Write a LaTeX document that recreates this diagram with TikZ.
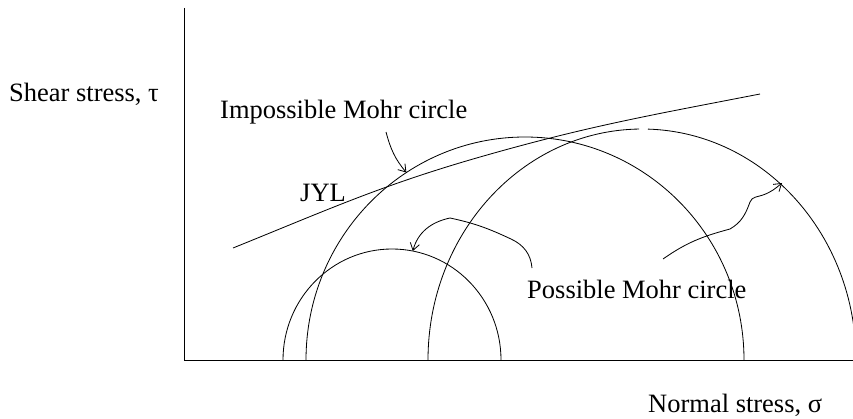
\documentclass[tikz,border=0pt]{standalone}
\usepackage{fontspec}
\setmainfont{Liberation Serif}
\usepackage{tikz}
\usetikzlibrary{arrows.meta, calc}
\colorlet{inkline}{black}
\tikzset{
  lbl/.style={anchor=base west, inner sep=0pt, font=\fontsize{22.6}{27}\selectfont},
  curve/.style={draw=inkline, line width=0.7pt},
  pointer/.style={curve, -{Straight Barb[length=6pt, width=8pt]}}
}
% half Mohr circle sitting on the sigma axis: centre x, x radius, y radius, name
\newcommand{\mohrarc}[4]{%
  \coordinate (#4) at (#1,58);
  \draw[curve] (#4) ++(#2,0) arc[start angle=0, end angle=180, x radius=#2, y radius=#3];
}

\begin{document}
\begin{tikzpicture}[x=0.03cm, y=0.03cm]
    \useasboundingbox (0,0) rectangle (853,418);

    % Axes
    \coordinate (org) at (184,58);
    \draw[curve] (184,410) -- (org) -- (853,58);
    \node[lbl] (shearlbl) at (9,316) {Shear stress, τ};
    \node[lbl] (normallbl) at (648,6) {Normal stress, σ};

    % Mohr circles
    \mohrarc{392}{109}{111}{csmall}
    \mohrarc{525}{219}{223}{cmid}
    \coordinate (cbig) at (642,58);
    \draw[curve] (cbig) ++(214,0) arc[start angle=0, end angle=88.4, x radius=214, y radius=231];
    \draw[curve] (cbig) ++(90.8:214 and 231) arc[start angle=90.8, end angle=180, x radius=214, y radius=231];

    % Failure envelope
    \coordinate (jyla) at (233,170);
    \coordinate (jylm) at (480,261);
    \coordinate (jylb) at (760,324);
    \draw[curve] (jyla) to[out=22, in=196] (jylm) to[out=16, in=191] (jylb);
    \node[lbl] (jyllbl) at (300,216) {JYL};

    % Labels and pointers
    \node[lbl] (implbl) at (220,299) {Impossible Mohr circle};
    \node[lbl] (posslbl) at (527,120) {Possible Mohr circle};
    \coordinate (impfrom) at (386,286);
    \coordinate (imptip) at ($(cmid)+(122.8:219 and 223)$);
    \draw[pointer] (impfrom) to[out=-75, in=130] (imptip);
    \coordinate (possfrom) at (532,150);
    \coordinate (smalltip) at ($(csmall)+(79:109 and 111)$);
    \draw[pointer] (possfrom) to[out=95, in=-25] (511,179) to[out=155, in=-12] (450,200)
      to[out=192, in=75] (smalltip);
    \coordinate (bigfrom) at (663,159);
    \coordinate (bigtip) at (782,235);
    \draw[pointer] (bigfrom) to[out=35, in=-165] (730,189) to[out=30, in=-110] (750,216)
      to[out=70, in=-160] (763,223) to[out=20, in=-140] (bigtip);
  \end{tikzpicture}
\end{document}
